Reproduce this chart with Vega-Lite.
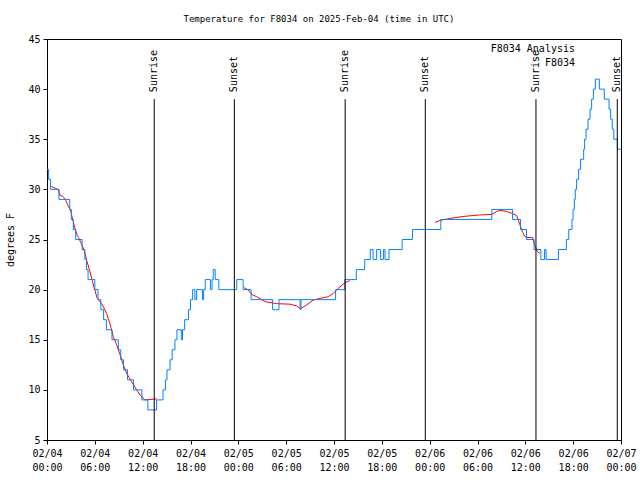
{
  "$schema": "https://vega.github.io/schema/vega-lite/v6.json",
  "width": 574,
  "height": 401,
  "autosize": "none",
  "padding": {"left": 47, "top": 39, "right": 19, "bottom": 40},
  "background": "white",
  "title": {"text": "Temperature for F8034 on 2025-Feb-04 (time in UTC)", "font": "DejaVu Sans Mono", "fontSize": 9, "fontWeight": "normal", "color": "black", "anchor": "middle", "dx": -15, "offset": 10},
  "config": {
    "view": {"stroke": "black", "strokeWidth": 1},
    "axis": {"grid": false, "domainColor": "black", "tickColor": "black", "labelColor": "black", "labelFont": "DejaVu Sans Mono", "labelFontSize": 10, "titleFont": "DejaVu Sans Mono", "titleFontSize": 10, "titleFontWeight": "normal", "titleColor": "black"}
  },
  "datasets": {
    "obs": [
      {"t": "2025-02-04T00:00:00Z", "v": 32}, {"t": "2025-02-04T00:12:00Z", "v": 31}, {"t": "2025-02-04T00:27:00Z", "v": 30},
      {"t": "2025-02-04T01:30:00Z", "v": 29}, {"t": "2025-02-04T02:51:00Z", "v": 28}, {"t": "2025-02-04T03:03:00Z", "v": 27},
      {"t": "2025-02-04T03:18:00Z", "v": 26}, {"t": "2025-02-04T03:36:00Z", "v": 25}, {"t": "2025-02-04T04:24:00Z", "v": 24},
      {"t": "2025-02-04T04:45:00Z", "v": 23}, {"t": "2025-02-04T04:57:00Z", "v": 22}, {"t": "2025-02-04T05:09:00Z", "v": 21},
      {"t": "2025-02-04T06:00:00Z", "v": 20}, {"t": "2025-02-04T06:24:00Z", "v": 19}, {"t": "2025-02-04T06:45:00Z", "v": 18},
      {"t": "2025-02-04T07:06:00Z", "v": 17}, {"t": "2025-02-04T07:27:00Z", "v": 16}, {"t": "2025-02-04T08:09:00Z", "v": 15},
      {"t": "2025-02-04T08:57:00Z", "v": 14}, {"t": "2025-02-04T09:15:00Z", "v": 13}, {"t": "2025-02-04T09:36:00Z", "v": 12},
      {"t": "2025-02-04T10:06:00Z", "v": 11}, {"t": "2025-02-04T10:51:00Z", "v": 10}, {"t": "2025-02-04T11:54:00Z", "v": 9},
      {"t": "2025-02-04T12:39:00Z", "v": 8}, {"t": "2025-02-04T13:45:00Z", "v": 9}, {"t": "2025-02-04T14:33:00Z", "v": 10},
      {"t": "2025-02-04T14:51:00Z", "v": 11}, {"t": "2025-02-04T15:03:00Z", "v": 12}, {"t": "2025-02-04T15:26:00Z", "v": 13},
      {"t": "2025-02-04T15:42:00Z", "v": 14}, {"t": "2025-02-04T16:03:00Z", "v": 15}, {"t": "2025-02-04T16:18:00Z", "v": 16},
      {"t": "2025-02-04T16:51:00Z", "v": 15}, {"t": "2025-02-04T17:00:00Z", "v": 16}, {"t": "2025-02-04T17:16:00Z", "v": 17},
      {"t": "2025-02-04T17:45:00Z", "v": 18}, {"t": "2025-02-04T18:00:00Z", "v": 19}, {"t": "2025-02-04T18:16:00Z", "v": 20},
      {"t": "2025-02-04T18:33:00Z", "v": 19}, {"t": "2025-02-04T18:46:00Z", "v": 20}, {"t": "2025-02-04T19:30:00Z", "v": 19},
      {"t": "2025-02-04T19:39:00Z", "v": 20}, {"t": "2025-02-04T19:51:00Z", "v": 21}, {"t": "2025-02-04T20:30:00Z", "v": 20},
      {"t": "2025-02-04T20:42:00Z", "v": 21}, {"t": "2025-02-04T20:51:00Z", "v": 22}, {"t": "2025-02-04T21:06:00Z", "v": 21},
      {"t": "2025-02-04T21:33:00Z", "v": 20}, {"t": "2025-02-04T23:48:00Z", "v": 21}, {"t": "2025-02-05T00:36:00Z", "v": 20},
      {"t": "2025-02-05T01:36:00Z", "v": 19}, {"t": "2025-02-05T04:18:00Z", "v": 18}, {"t": "2025-02-05T05:06:00Z", "v": 19},
      {"t": "2025-02-05T07:45:00Z", "v": 18}, {"t": "2025-02-05T07:51:00Z", "v": 19}, {"t": "2025-02-05T12:12:00Z", "v": 20},
      {"t": "2025-02-05T13:21:00Z", "v": 21}, {"t": "2025-02-05T14:48:00Z", "v": 22}, {"t": "2025-02-05T15:51:00Z", "v": 23},
      {"t": "2025-02-05T16:33:00Z", "v": 24}, {"t": "2025-02-05T16:54:00Z", "v": 23}, {"t": "2025-02-05T17:21:00Z", "v": 24},
      {"t": "2025-02-05T17:51:00Z", "v": 23}, {"t": "2025-02-05T18:12:00Z", "v": 24}, {"t": "2025-02-05T18:24:00Z", "v": 23},
      {"t": "2025-02-05T18:54:00Z", "v": 24}, {"t": "2025-02-05T20:33:00Z", "v": 25}, {"t": "2025-02-05T21:51:00Z", "v": 26},
      {"t": "2025-02-06T01:24:00Z", "v": 27}, {"t": "2025-02-06T07:48:00Z", "v": 28}, {"t": "2025-02-06T10:24:00Z", "v": 27},
      {"t": "2025-02-06T11:24:00Z", "v": 26}, {"t": "2025-02-06T12:09:00Z", "v": 25}, {"t": "2025-02-06T13:06:00Z", "v": 24},
      {"t": "2025-02-06T13:57:00Z", "v": 23}, {"t": "2025-02-06T14:24:00Z", "v": 24}, {"t": "2025-02-06T14:36:00Z", "v": 23},
      {"t": "2025-02-06T16:09:00Z", "v": 24}, {"t": "2025-02-06T17:09:00Z", "v": 25}, {"t": "2025-02-06T17:27:00Z", "v": 26},
      {"t": "2025-02-06T17:51:00Z", "v": 27}, {"t": "2025-02-06T17:59:00Z", "v": 28}, {"t": "2025-02-06T18:09:00Z", "v": 29},
      {"t": "2025-02-06T18:16:00Z", "v": 30}, {"t": "2025-02-06T18:26:00Z", "v": 31}, {"t": "2025-02-06T18:41:00Z", "v": 32},
      {"t": "2025-02-06T18:56:00Z", "v": 33}, {"t": "2025-02-06T19:19:00Z", "v": 34}, {"t": "2025-02-06T19:26:00Z", "v": 35},
      {"t": "2025-02-06T19:37:00Z", "v": 36}, {"t": "2025-02-06T19:52:00Z", "v": 37}, {"t": "2025-02-06T20:07:00Z", "v": 38},
      {"t": "2025-02-06T20:19:00Z", "v": 39}, {"t": "2025-02-06T20:32:00Z", "v": 40}, {"t": "2025-02-06T20:47:00Z", "v": 41},
      {"t": "2025-02-06T21:17:00Z", "v": 40}, {"t": "2025-02-06T21:54:00Z", "v": 39}, {"t": "2025-02-06T22:30:00Z", "v": 38},
      {"t": "2025-02-06T22:42:00Z", "v": 37}, {"t": "2025-02-06T22:54:00Z", "v": 36}, {"t": "2025-02-06T23:06:00Z", "v": 35},
      {"t": "2025-02-06T23:33:00Z", "v": 34}, {"t": "2025-02-07T00:00:00Z", "v": 34}
    ],
    "ana": [
      {"t": "2025-02-04T00:32:00Z", "v": 30.3, "s": 1}, {"t": "2025-02-04T01:02:00Z", "v": 30.1, "s": 1}, {"t": "2025-02-04T01:23:00Z", "v": 30.0, "s": 1},
      {"t": "2025-02-04T01:38:00Z", "v": 29.4, "s": 1}, {"t": "2025-02-04T02:00:00Z", "v": 29.3, "s": 1}, {"t": "2025-02-04T02:21:00Z", "v": 28.9, "s": 1},
      {"t": "2025-02-04T02:38:00Z", "v": 28.4, "s": 1}, {"t": "2025-02-04T02:58:00Z", "v": 27.9, "s": 1}, {"t": "2025-02-04T03:08:00Z", "v": 27.3, "s": 1},
      {"t": "2025-02-04T03:18:00Z", "v": 26.8, "s": 1}, {"t": "2025-02-04T03:28:00Z", "v": 26.2, "s": 1}, {"t": "2025-02-04T03:48:00Z", "v": 25.4, "s": 1},
      {"t": "2025-02-04T03:58:00Z", "v": 25.2, "s": 1}, {"t": "2025-02-04T04:14:00Z", "v": 24.7, "s": 1}, {"t": "2025-02-04T04:38:00Z", "v": 24.0, "s": 1},
      {"t": "2025-02-04T04:59:00Z", "v": 22.9, "s": 1}, {"t": "2025-02-04T05:19:00Z", "v": 22.0, "s": 1}, {"t": "2025-02-04T05:41:00Z", "v": 20.9, "s": 1},
      {"t": "2025-02-04T05:54:00Z", "v": 20.2, "s": 1}, {"t": "2025-02-04T06:19:00Z", "v": 19.1, "s": 1}, {"t": "2025-02-04T06:52:00Z", "v": 18.6, "s": 1},
      {"t": "2025-02-04T07:29:00Z", "v": 17.6, "s": 1}, {"t": "2025-02-04T07:54:00Z", "v": 16.6, "s": 1}, {"t": "2025-02-04T08:19:00Z", "v": 15.3, "s": 1},
      {"t": "2025-02-04T08:44:00Z", "v": 14.5, "s": 1}, {"t": "2025-02-04T09:10:00Z", "v": 13.5, "s": 1}, {"t": "2025-02-04T09:34:00Z", "v": 12.5, "s": 1},
      {"t": "2025-02-04T10:00:00Z", "v": 11.65, "s": 1}, {"t": "2025-02-04T10:37:00Z", "v": 10.8, "s": 1}, {"t": "2025-02-04T11:15:00Z", "v": 10.0, "s": 1},
      {"t": "2025-02-04T11:40:00Z", "v": 9.5, "s": 1}, {"t": "2025-02-04T12:17:00Z", "v": 9.0, "s": 1}, {"t": "2025-02-04T13:46:00Z", "v": 9.1, "s": 1},
      {"t": "2025-02-05T00:43:00Z", "v": 20.2, "s": 2}, {"t": "2025-02-05T01:15:00Z", "v": 19.96, "s": 2}, {"t": "2025-02-05T01:41:00Z", "v": 19.5, "s": 2},
      {"t": "2025-02-05T02:18:00Z", "v": 19.3, "s": 2}, {"t": "2025-02-05T03:21:00Z", "v": 18.8, "s": 2}, {"t": "2025-02-05T04:48:00Z", "v": 18.6, "s": 2},
      {"t": "2025-02-05T06:30:00Z", "v": 18.55, "s": 2}, {"t": "2025-02-05T07:18:00Z", "v": 18.37, "s": 2}, {"t": "2025-02-05T07:48:00Z", "v": 18.1, "s": 2},
      {"t": "2025-02-05T08:34:00Z", "v": 18.47, "s": 2}, {"t": "2025-02-05T09:24:00Z", "v": 18.96, "s": 2}, {"t": "2025-02-05T10:15:00Z", "v": 19.13, "s": 2},
      {"t": "2025-02-05T11:18:00Z", "v": 19.3, "s": 2}, {"t": "2025-02-05T11:54:00Z", "v": 19.6, "s": 2}, {"t": "2025-02-05T12:30:00Z", "v": 20.1, "s": 2},
      {"t": "2025-02-05T13:24:00Z", "v": 20.7, "s": 2}, {"t": "2025-02-05T14:00:00Z", "v": 20.9, "s": 2},
      {"t": "2025-02-06T00:40:00Z", "v": 26.7, "s": 3}, {"t": "2025-02-06T01:18:00Z", "v": 26.9, "s": 3}, {"t": "2025-02-06T02:33:00Z", "v": 27.1, "s": 3},
      {"t": "2025-02-06T04:12:00Z", "v": 27.3, "s": 3}, {"t": "2025-02-06T06:18:00Z", "v": 27.45, "s": 3}, {"t": "2025-02-06T07:47:00Z", "v": 27.5, "s": 3},
      {"t": "2025-02-06T08:24:00Z", "v": 27.8, "s": 3}, {"t": "2025-02-06T08:48:00Z", "v": 27.9, "s": 3}, {"t": "2025-02-06T09:40:00Z", "v": 27.8, "s": 3},
      {"t": "2025-02-06T10:18:00Z", "v": 27.6, "s": 3}, {"t": "2025-02-06T10:54:00Z", "v": 27.4, "s": 3}, {"t": "2025-02-06T11:06:00Z", "v": 27.0, "s": 3},
      {"t": "2025-02-06T11:18:00Z", "v": 26.5, "s": 3}, {"t": "2025-02-06T11:40:00Z", "v": 25.7, "s": 3}, {"t": "2025-02-06T11:54:00Z", "v": 25.35, "s": 3},
      {"t": "2025-02-06T12:10:00Z", "v": 25.2, "s": 3}, {"t": "2025-02-06T12:55:00Z", "v": 25.2, "s": 3}, {"t": "2025-02-06T13:08:00Z", "v": 24.5, "s": 3},
      {"t": "2025-02-06T13:20:00Z", "v": 24.2, "s": 3}, {"t": "2025-02-06T13:30:00Z", "v": 23.8, "s": 3}, {"t": "2025-02-06T13:50:00Z", "v": 23.6, "s": 3}
    ],
    "sun": [
      {"t": "2025-02-04T13:27:00Z", "label": "Sunrise"},
      {"t": "2025-02-04T23:30:00Z", "label": "Sunset"},
      {"t": "2025-02-05T13:24:00Z", "label": "Sunrise"},
      {"t": "2025-02-05T23:27:00Z", "label": "Sunset"},
      {"t": "2025-02-06T13:20:00Z", "label": "Sunrise"},
      {"t": "2025-02-06T23:32:00Z", "label": "Sunset"}
    ]
  },
  "layer": [
    {
      "data": {"name": "ana"},
      "mark": {"type": "line", "strokeWidth": 1},
      "encoding": {
        "x": {"field": "t", "type": "temporal", "scale": {"type": "utc"}},
        "y": {"field": "v", "type": "quantitative"},
        "detail": {"field": "s", "type": "nominal"},
        "color": {"datum": "F8034 Analysis", "type": "nominal",
                  "scale": {"domain": ["F8034 Analysis", "F8034"], "range": ["#ff0000", "#0080ff"]},
                  "legend": {"orient": "none", "legendX": 535, "legendY": 3, "title": null, "symbolType": "stroke", "symbolSize": 784, "symbolStrokeWidth": 1, "clipHeight": 14, "labelAlign": "right", "labelOffset": -36, "labelFont": "DejaVu Sans Mono", "labelFontSize": 10, "labelColor": "black", "rowPadding": 0, "padding": 0, "labelLimit": 0}}
      }
    },
    {
      "data": {"name": "obs"},
      "mark": {"type": "line", "strokeWidth": 1, "interpolate": "step-after"},
      "encoding": {
        "x": {"field": "t", "type": "temporal", "scale": {"type": "utc"},
              "axis": {"orient": "bottom", "tickSize": 4, "labelPadding": 4, "labelFlush": false,
                       "labelExpr": "[utcFormat(datum.value, '%m/%d'), utcFormat(datum.value, '%H:%M')]",
                       "labelLineHeight": 14, "labelBaseline": "top", "title": null}},
        "y": {"field": "v", "type": "quantitative", "scale": {"domain": [5, 45], "nice": false, "zero": false},
              "axis": {"orient": "left", "values": [5, 10, 15, 20, 25, 30, 35, 40, 45], "tickSize": 4, "labelPadding": 3, "title": "degrees F", "titlePadding": 12}},
        "color": {"datum": "F8034", "type": "nominal"}
      }
    },
    {
      "data": {"name": "sun"},
      "mark": {"type": "rule", "color": "black", "strokeWidth": 1},
      "encoding": {
        "x": {"field": "t", "type": "temporal"},
        "y": {"datum": 39, "type": "quantitative"},
        "y2": {"datum": 5}
      }
    },
    {
      "data": {"name": "sun"},
      "mark": {"type": "text", "angle": 270, "align": "left", "baseline": "middle", "font": "DejaVu Sans Mono", "fontSize": 10, "color": "black"},
      "encoding": {
        "x": {"field": "t", "type": "temporal"},
        "y": {"datum": 39.7, "type": "quantitative"},
        "text": {"field": "label", "type": "nominal"}
      }
    }
  ]
}
